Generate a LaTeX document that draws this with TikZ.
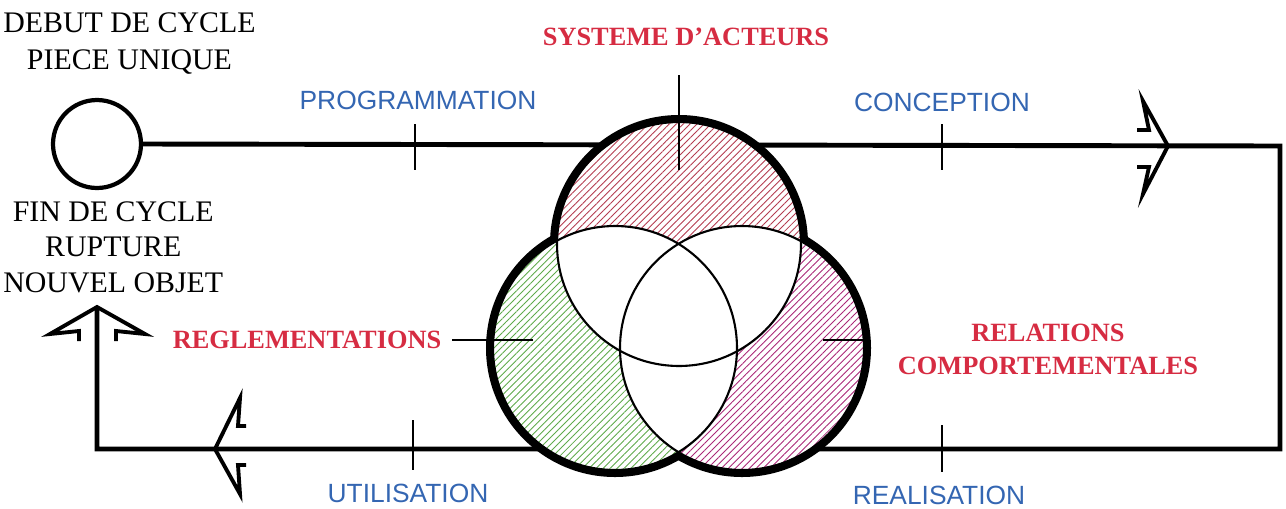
\documentclass[tikz,border=0pt]{standalone}
\usepackage{fontspec}
\setmainfont{Liberation Serif}
\setsansfont{Liberation Sans}
\usepackage{tikz}
\usetikzlibrary{positioning,calc,patterns.meta}
\definecolor{labred}{RGB}{214,44,66}
\definecolor{labblue}{RGB}{52,102,178}
\definecolor{hatchred}{RGB}{180,60,80}
\definecolor{hatchgreen}{RGB}{95,170,75}
\definecolor{hatchmag}{RGB}{170,40,120}

\begin{document}
\begin{tikzpicture}[
    x=0.02cm, y=-0.02cm,
    mainline/.style={line width=2.8pt},
    headline/.style={line width=2.2pt, line join=miter},
    tick/.style={line width=0.9pt},
    phase/.style={font=\sffamily\fontsize{15}{16}\selectfont, text=labblue, inner sep=0pt},
    pole/.style={font=\bfseries\fontsize{15}{18.7}\selectfont, text=labred, inner sep=0pt, align=center},
    state/.style={font=\fontsize{17}{20.4}\selectfont, inner sep=0pt, align=center},
    hatch/.style={pattern={Lines[angle=45,distance=2.8pt,line width=0.5pt]}, pattern color=#1}
]
    \useasboundingbox (0,0) rectangle (1286,508);
    \def\rad{2.44cm}

    % Cycle
    \node[draw, circle, line width=2.4pt, minimum size=1.76cm, fill=white] (start) at (97,144) {};
    \coordinate (ne) at (1280,146);
    \coordinate (se) at (1280,449);
    \coordinate (sw) at (97,449);
    \coordinate (uptip) at (97,307);
    \draw[mainline] (start.east) -- (ne) -- (se) -- (sw) -- (uptip);

    % Arrow heads
    \draw[headline] (1137,130) -- (1149,130) -- (1143,101) -- (1168,146) -- (1143,194) -- (1149,167) -- (1137,167);
    \draw[headline] (246,426) -- (238,426) -- (240,398) -- (215,449) -- (240,494) -- (238,465) -- (246,465);
    \draw[headline] (79,341) -- (79,331) -- (50,334) -- (uptip) -- (145,334) -- (116,331) -- (116,341);

    % Circles
    \coordinate (acteurs) at (679,244);
    \coordinate (regl) at (615,348);
    \coordinate (relat) at (742,348);
    \foreach \c in {acteurs,regl,relat}
        \draw[line width=8pt] (\c) circle[radius=\rad];
    \foreach \c in {acteurs,regl,relat}
        \fill[white] (\c) circle[radius=\rad];
    \fill[hatch=hatchred] (acteurs) circle[radius=\rad];
    \fill[hatch=hatchgreen] (regl) circle[radius=\rad];
    \fill[hatch=hatchmag] (relat) circle[radius=\rad];
    \begin{scope}
        \clip (acteurs) circle[radius=\rad];
        \fill[white] (regl) circle[radius=\rad];
        \fill[white] (relat) circle[radius=\rad];
    \end{scope}
    \begin{scope}
        \clip (regl) circle[radius=\rad];
        \fill[white] (relat) circle[radius=\rad];
    \end{scope}
    \foreach \c in {acteurs,regl,relat}
        \draw[line width=1.2pt] (\c) circle[radius=\rad];

    % Phases
    \node[phase] (prog) at (418,100) {PROGRAMMATION};
    \node[phase] (conc) at (942,102) {CONCEPTION};
    \node[phase] (util) at (408,493) {UTILISATION};
    \node[phase] (real) at (939,495) {REALISATION};
    \draw[tick] (415,124) -- (415,170);
    \draw[tick] (942,124) -- (942,170);
    \draw[tick] (413,420) -- (413,470);
    \draw[tick] (942,425) -- (942,472);

    % Poles
    \node[pole] (sys) at (686,37) {SYSTEME D'ACTEURS};
    \node[pole] (reg) at (307,340) {REGLEMENTATIONS};
    \node[pole] (rel) at (1048,349) {RELATIONS\\COMPORTEMENTALES};
    \draw[tick] (679,75) -- (679,170);
    \draw[tick] (452,340) -- (533,340);
    \draw[tick] (823,340) -- (864,340);

    % States
    \node[state, anchor=north west, font=\fontsize{17}{21.5}\selectfont] (debut) at (3,12) {DEBUT DE CYCLE\\PIECE UNIQUE};
    \node[state, anchor=north west] (fin) at (3,201) {FIN DE CYCLE\\RUPTURE\\NOUVEL OBJET};
\end{tikzpicture}
\end{document}
